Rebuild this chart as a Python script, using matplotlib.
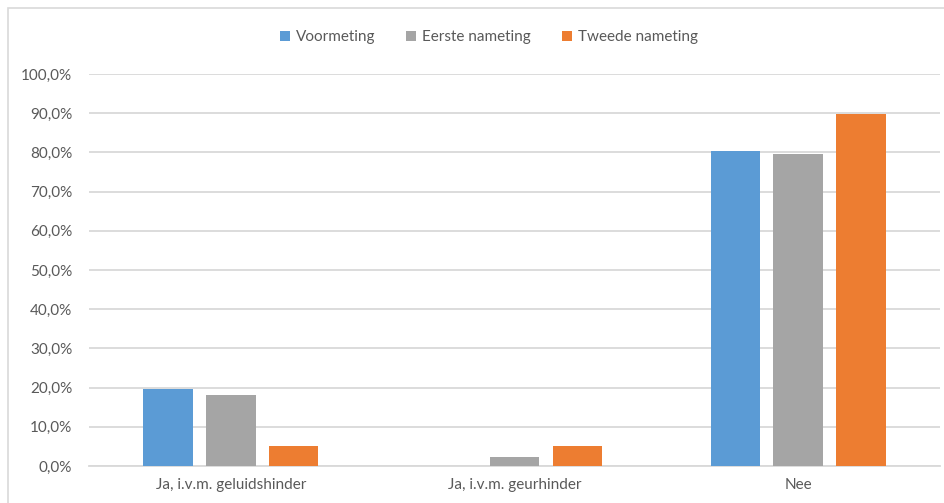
import numpy as np
import matplotlib.pyplot as plt
from matplotlib.patches import Rectangle
from matplotlib.ticker import FuncFormatter, MultipleLocator

categories = ["Ja, i.v.m. geluidshinder", "Ja, i.v.m. geurhinder", "Nee"]
series_names = ["Voormeting", "Eerste nameting", "Tweede nameting"]
voormeting = [19.7, 0.0, 80.4]
eerste_nameting = [18.2, 2.3, 79.5]
tweede_nameting = [5.1, 5.2, 89.7]
colors = ["#5B9BD5", "#A5A5A5", "#ED7D31"]

plt.rcParams['font.family'] = ['Lato', 'DejaVu Sans']
text_color = "#595959"

fig = plt.figure(figsize=(9.45, 5.03), dpi=100)
ax = fig.add_axes([0.0942, 0.0736, 0.9005, 0.7793])

# chart outline (only left and top edges visible in the crop)
fig.patches.append(Rectangle((8 / 945, -0.1), 1.2, 1 - 8 / 503 + 0.1,
                             transform=fig.transFigure, fill=False,
                             edgecolor="#d9d9d9", linewidth=1.2))

x = np.arange(len(categories))
width = 0.174
step = 0.222
for i, (vals, name) in enumerate(zip([voormeting, eerste_nameting, tweede_nameting], series_names)):
    ax.bar(x + (i - 1) * step, vals, width, color=colors[i], label=name, zorder=3)

ax.set_xlim(-0.5, len(categories) - 0.5)
ax.set_ylim(0, 100)
ax.yaxis.set_major_locator(MultipleLocator(10))
ax.yaxis.set_major_formatter(FuncFormatter(lambda v, p: f"{v:.1f}%".replace(".", ",")))
ax.set_xticks(x)
ax.set_xticklabels(categories)
ax.grid(axis="y", color="#d9d9d9", linewidth=1.3, zorder=0)
for s in ["top", "right", "left"]:
    ax.spines[s].set_visible(False)
ax.spines["bottom"].set_color("#d9d9d9")
ax.spines["bottom"].set_linewidth(1.3)
ax.tick_params(axis="both", length=0, labelsize=11, colors=text_color)
ax.tick_params(axis="y", pad=12)
ax.tick_params(axis="x", pad=9)

fig.legend(loc="center", bbox_to_anchor=(489 / 945, 1 - 37 / 503), ncol=3,
           frameon=False, fontsize=11, labelcolor=text_color,
           handlelength=0.65, handleheight=0.65, handletextpad=0.4, columnspacing=2.0)

fig.savefig("out.png", dpi=100)
